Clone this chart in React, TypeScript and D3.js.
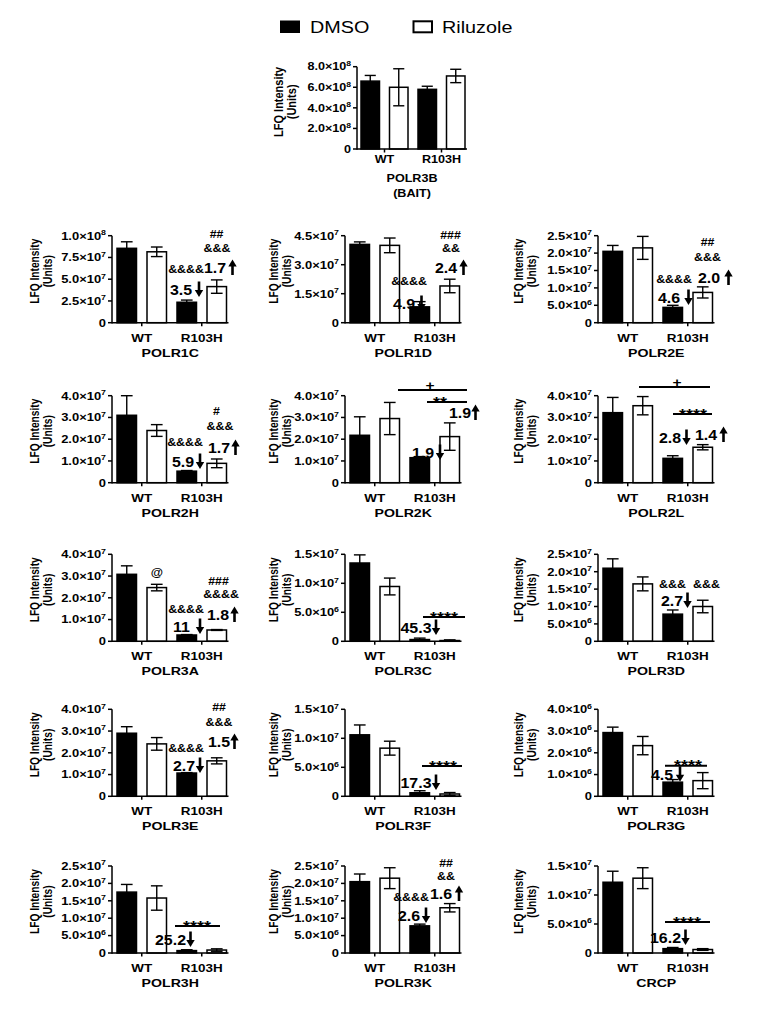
import React from "react";
import * as d3 from "d3";

// ---------- DATA ----------
const groups = ["WT", "R103H"];
const legendLabels = ["DMSO", "Riluzole"];
// bar order: [WT DMSO, WT Riluzole, R103H DMSO, R103H Riluzole]
const POLR3B_mean = [6.6e8, 6.0e8, 5.8e8, 7.1e8];
const POLR3B_err = [0.55e8, 1.8e8, 0.3e8, 0.65e8];
const POLR3B_ticks = [0, 2e8, 4e8, 6e8, 8e8];

const POLR1C_mean = [8.55e7, 8.15e7, 2.35e7, 4.15e7];
const POLR1C_err = [0.75e7, 0.55e7, 0.25e7, 0.77e7];
const POLR1C_ticks = [0, 2.5e7, 5e7, 7.5e7, 1e8];

const POLR1D_mean = [4.05e7, 4.0e7, 0.82e7, 1.9e7];
const POLR1D_err = [0.13e7, 0.38e7, 0.27e7, 0.35e7];
const POLR1D_ticks = [0, 1.5e7, 3e7, 4.5e7];

const POLR2E_mean = [2.05e7, 2.15e7, 0.44e7, 0.87e7];
const POLR2E_err = [0.17e7, 0.33e7, 0.06e7, 0.16e7];
const POLR2E_ticks = [0, 5e6, 1e7, 1.5e7, 2e7, 2.5e7];

const POLR2H_mean = [3.1e7, 2.4e7, 0.53e7, 0.89e7];
const POLR2H_err = [0.9e7, 0.27e7, 0.03e7, 0.2e7];
const POLR2H_ticks = [0, 1e7, 2e7, 3e7, 4e7];

const POLR2K_mean = [2.18e7, 2.95e7, 1.15e7, 2.12e7];
const POLR2K_err = [0.85e7, 0.74e7, 0.05e7, 0.63e7];
const POLR2K_ticks = [0, 1e7, 2e7, 3e7, 4e7];

const POLR2L_mean = [3.22e7, 3.54e7, 1.12e7, 1.63e7];
const POLR2L_err = [0.7e7, 0.42e7, 0.12e7, 0.12e7];
const POLR2L_ticks = [0, 1e7, 2e7, 3e7, 4e7];

const POLR3A_mean = [3.08e7, 2.47e7, 0.29e7, 0.52e7];
const POLR3A_err = [0.39e7, 0.15e7, 0.02e7, 0.02e7];
const POLR3A_ticks = [0, 1e7, 2e7, 3e7, 4e7];

const POLR3C_mean = [1.35e7, 0.945e7, 3.0e5, 1.3e5];
const POLR3C_err = [0.14e7, 0.145e7, 2.5e5, 1.2e5];
const POLR3C_ticks = [0, 5e6, 1e7, 1.5e7];

const POLR3D_mean = [2.1e7, 1.65e7, 0.78e7, 1.0e7];
const POLR3D_err = [0.27e7, 0.2e7, 0.12e7, 0.18e7];
const POLR3D_ticks = [0, 5e6, 1e7, 1.5e7, 2e7, 2.5e7];

const POLR3E_mean = [2.9e7, 2.41e7, 1.07e7, 1.63e7];
const POLR3E_err = [0.3e7, 0.29e7, 0.02e7, 0.14e7];
const POLR3E_ticks = [0, 1e7, 2e7, 3e7, 4e7];

const POLR3F_mean = [1.06e7, 0.83e7, 6.1e5, 4.0e5];
const POLR3F_err = [0.17e7, 0.12e7, 3.5e5, 2.5e5];
const POLR3F_ticks = [0, 5e6, 1e7, 1.5e7];

const POLR3G_mean = [2.93e6, 2.33e6, 0.65e6, 0.72e6];
const POLR3G_err = [0.25e6, 0.42e6, 0.12e6, 0.37e6];
const POLR3G_ticks = [0, 1e6, 2e6, 3e6, 4e6];

const POLR3H_mean = [1.75e7, 1.58e7, 6.9e5, 8.5e5];
const POLR3H_err = [0.22e7, 0.35e7, 2.5e5, 3.5e5];
const POLR3H_ticks = [0, 5e6, 1e7, 1.5e7, 2e7, 2.5e7];

const POLR3K_mean = [2.05e7, 2.15e7, 0.78e7, 1.3e7];
const POLR3K_err = [0.22e7, 0.3e7, 0.05e7, 0.12e7];
const POLR3K_ticks = [0, 5e6, 1e7, 1.5e7, 2e7, 2.5e7];

const CRCP_mean = [1.22e7, 1.29e7, 7.5e5, 6e5];
const CRCP_err = [0.19e7, 0.18e7, 2e5, 1.5e5];
const CRCP_ticks = [0, 5e6, 1e7, 1.5e7];

// ---------- LAYOUT ----------
const FONT = "'Liberation Sans', Arial, Helvetica, sans-serif";
const SX = 1.2; // horizontal stretch of the source figure's lettering
const COLS = [112, 345, 598];
const ROWS = [235.7, 395.7, 554.3, 709.3, 866];
const LABEL_X = [39, 278, 523];

type Ann =
  | { k: "t"; s: string; x: number; y: number; fs?: number }
  | { k: "f"; s: string; x: number; y: number; ax: number; dir: "up" | "down" }
  | { k: "b"; s: string; x1: number; x2: number; y: number; lx: number; fs?: number; dy?: number };

const panels = [
  { title: ["POLR1C"], mean: POLR1C_mean, err: POLR1C_err, ticks: POLR1C_ticks, col: 0, row: 0,
    ann: [
      { k: "t", s: "##", x: 104.5, y: 2.3 }, { k: "t", s: "&&&", x: 105, y: 16.3 },
      { k: "f", s: "1.7", x: 92, y: 37.3, ax: 120.5, dir: "up" },
      { k: "t", s: "&&&&", x: 74, y: 37.3 }, { k: "f", s: "3.5", x: 58, y: 59.3, ax: 87, dir: "down" },
    ] as Ann[] },
  { title: ["POLR1D"], mean: POLR1D_mean, err: POLR1D_err, ticks: POLR1D_ticks, col: 1, row: 0,
    ann: [
      { k: "t", s: "###", x: 105.5, y: 3.3 }, { k: "t", s: "&&", x: 106, y: 16.3 },
      { k: "f", s: "2.4", x: 90, y: 37.3, ax: 118.5, dir: "up" },
      { k: "t", s: "&&&&", x: 64, y: 49.3 }, { k: "f", s: "4.9", x: 48, y: 73.3, ax: 76.5, dir: "down" },
    ] as Ann[] },
  { title: ["POLR2E"], mean: POLR2E_mean, err: POLR2E_err, ticks: POLR2E_ticks, col: 2, row: 0,
    ann: [
      { k: "t", s: "##", x: 109.5, y: 10.3 }, { k: "t", s: "&&&", x: 109.5, y: 25.3 },
      { k: "f", s: "2.0", x: 100, y: 47.3, ax: 130.5, dir: "up" },
      { k: "t", s: "&&&&", x: 76, y: 47.3 }, { k: "f", s: "4.6", x: 60, y: 67.3, ax: 90.5, dir: "down" },
    ] as Ann[] },
  { title: ["POLR2H"], mean: POLR2H_mean, err: POLR2H_err, ticks: POLR2H_ticks, col: 0, row: 1,
    ann: [
      { k: "t", s: "#", x: 104.5, y: 19.3 }, { k: "t", s: "&&&", x: 108, y: 34.3 },
      { k: "f", s: "1.7", x: 96, y: 57.3, ax: 123.5, dir: "up" },
      { k: "t", s: "&&&&", x: 73, y: 50.3 }, { k: "f", s: "5.9", x: 60, y: 71.3, ax: 88, dir: "down" },
    ] as Ann[] },
  { title: ["POLR2K"], mean: POLR2K_mean, err: POLR2K_err, ticks: POLR2K_ticks, col: 1, row: 1,
    ann: [
      { k: "b", s: "+", x1: 53, x2: 122, y: -5.7, lx: 85, fs: 13, dy: 0 },
      { k: "b", s: "**", x1: 82, x2: 122, y: 6.3, lx: 95, fs: 15, dy: 4.5 },
      { k: "f", s: "1.9", x: 104, y: 22.3, ax: 130.5, dir: "up" },
      { k: "f", s: "1.9", x: 67, y: 62.3, ax: 95, dir: "down" },
    ] as Ann[] },
  { title: ["POLR2L"], mean: POLR2L_mean, err: POLR2L_err, ticks: POLR2L_ticks, col: 2, row: 1,
    ann: [
      { k: "b", s: "+", x1: 41, x2: 112, y: -8.7, lx: 79, fs: 13, dy: 0 },
      { k: "b", s: "****", x1: 75, x2: 114, y: 18.3, lx: 95, fs: 15, dy: 4.5 },
      { k: "f", s: "2.8", x: 61, y: 47.3, ax: 88.5, dir: "down" },
      { k: "f", s: "1.4", x: 97, y: 44.3, ax: 125.5, dir: "up" },
    ] as Ann[] },
  { title: ["POLR3A"], mean: POLR3A_mean, err: POLR3A_err, ticks: POLR3A_ticks, col: 0, row: 2,
    ann: [
      { k: "t", s: "@", x: 45, y: 21.7, fs: 10.5 },
      { k: "t", s: "###", x: 106.5, y: 30.7 }, { k: "t", s: "&&&&", x: 109, y: 43.7 },
      { k: "f", s: "1.8", x: 95, y: 65.7, ax: 122.5, dir: "up" },
      { k: "t", s: "&&&&", x: 74, y: 58.7 }, { k: "f", s: "11", x: 61, y: 77.7, ax: 88, dir: "down" },
    ] as Ann[] },
  { title: ["POLR3C"], mean: POLR3C_mean, err: POLR3C_err, ticks: POLR3C_ticks, col: 1, row: 2,
    ann: [
      { k: "b", s: "****", x1: 78, x2: 120, y: 62.7, lx: 99, fs: 15, dy: 4.5 },
      { k: "f", s: "45.3", x: 55.5, y: 78.7, ax: 91, dir: "down" },
    ] as Ann[] },
  { title: ["POLR3D"], mean: POLR3D_mean, err: POLR3D_err, ticks: POLR3D_ticks, col: 2, row: 2,
    ann: [
      { k: "t", s: "&&&", x: 74.5, y: 33.7 }, { k: "t", s: "&&&", x: 108.5, y: 33.7 },
      { k: "f", s: "2.7", x: 63, y: 51.7, ax: 89.5, dir: "down" },
    ] as Ann[] },
  { title: ["POLR3E"], mean: POLR3E_mean, err: POLR3E_err, ticks: POLR3E_ticks, col: 0, row: 3,
    ann: [
      { k: "t", s: "##", x: 107, y: 1.7 }, { k: "t", s: "&&&", x: 107, y: 16.7 },
      { k: "f", s: "1.5", x: 96, y: 37.7, ax: 122.5, dir: "up" },
      { k: "t", s: "&&&&", x: 74, y: 42.7 }, { k: "f", s: "2.7", x: 61, y: 61.7, ax: 88, dir: "down" },
    ] as Ann[] },
  { title: ["POLR3F"], mean: POLR3F_mean, err: POLR3F_err, ticks: POLR3F_ticks, col: 1, row: 3,
    ann: [
      { k: "b", s: "****", x1: 77, x2: 117, y: 56.7, lx: 98, fs: 15, dy: 4.5 },
      { k: "f", s: "17.3", x: 55.5, y: 78.7, ax: 91, dir: "down" },
    ] as Ann[] },
  { title: ["POLR3G"], mean: POLR3G_mean, err: POLR3G_err, ticks: POLR3G_ticks, col: 2, row: 3,
    ann: [
      { k: "b", s: "****", x1: 67, x2: 109, y: 56.5, lx: 90, fs: 15, dy: 4.5 },
      { k: "f", s: "4.5", x: 53, y: 70.5, ax: 82, dir: "down" },
    ] as Ann[] },
  { title: ["POLR3H"], mean: POLR3H_mean, err: POLR3H_err, ticks: POLR3H_ticks, col: 0, row: 4,
    ann: [
      { k: "b", s: "****", x1: 63, x2: 108, y: 60, lx: 85, fs: 15, dy: 4.5 },
      { k: "f", s: "25.2", x: 43, y: 79, ax: 78.5, dir: "down" },
    ] as Ann[] },
  { title: ["POLR3K"], mean: POLR3K_mean, err: POLR3K_err, ticks: POLR3K_ticks, col: 1, row: 4,
    ann: [
      { k: "t", s: "##", x: 101, y: 1 }, { k: "t", s: "&&", x: 101, y: 13.5 },
      { k: "f", s: "1.6", x: 85, y: 33, ax: 114, dir: "up" },
      { k: "t", s: "&&&&", x: 66, y: 35 }, { k: "f", s: "2.6", x: 53, y: 55, ax: 81, dir: "down" },
    ] as Ann[] },
  { title: ["CRCP"], mean: CRCP_mean, err: CRCP_err, ticks: CRCP_ticks, col: 2, row: 4,
    ann: [
      { k: "b", s: "****", x1: 67, x2: 112, y: 56, lx: 89, fs: 15, dy: 4.5 },
      { k: "f", s: "16.2", x: 52, y: 77, ax: 87.5, dir: "down" },
    ] as Ann[] },
];

function tickParts(v: number) {
  if (v === 0) return { m: "0", e: null as number | null };
  const e = Math.floor(Math.log10(v) + 1e-9);
  return { m: (v / Math.pow(10, e)).toFixed(1), e };
}

function T({ x, y, fs, anchor = "start", rot = false, weight = "bold", sx = SX, children }:
  { x: number; y: number; fs: number; anchor?: string; rot?: boolean; weight?: string; sx?: number; children: React.ReactNode }) {
  return (
    <text transform={`translate(${x},${y}) scale(${sx},1)${rot ? " rotate(-90)" : ""}`}
      textAnchor={anchor} fontSize={fs} fontWeight={weight}>{children}</text>
  );
}

function Arrow({ x, y, dir }: { x: number; y: number; dir: "up" | "down" }) {
  const top = y - 13.5, bot = y + 2, hw = 4.2, hh = 7;
  if (dir === "down") {
    return (
      <g>
        <line x1={x} x2={x} y1={top} y2={bot - hh + 1} stroke="#000" strokeWidth={2.6} />
        <path d={`M${x - hw},${bot - hh}L${x + hw},${bot - hh}L${x},${bot}Z`} fill="#000" />
      </g>
    );
  }
  return (
    <g>
      <line x1={x} x2={x} y1={top + hh - 1} y2={bot} stroke="#000" strokeWidth={2.6} />
      <path d={`M${x - hw},${top + hh}L${x + hw},${top + hh}L${x},${top}Z`} fill="#000" />
    </g>
  );
}

type PanelProps = {
  title: string[]; mean: number[]; err: number[]; ticks: number[];
  a: number; t: number; h: number; off: number; pitch: number; bw: number;
  labelX: number; labelDy: number; tickFs: number; labFs: number; titleFs: number; axLabFs: number;
  xLabDy: number; titleDy: number; titleGap: number; ann: Ann[];
};

function Panel(p: PanelProps) {
  const y = d3.scaleLinear().domain([0, p.ticks[p.ticks.length - 1]]).range([p.t + p.h, p.t]);
  const x = d3.scaleBand<number>()
    .domain([0, 1, 2, 3])
    .range([p.a + p.off, p.a + p.off + 3 * p.pitch + p.bw])
    .paddingInner(1 - p.bw / p.pitch)
    .paddingOuter(0);
  const bw = x.bandwidth();
  const xEnd = p.a + p.off + 3 * p.pitch + p.bw + 2;
  const base = y(0);
  const cap = bw * 0.6;
  const gc = [(x(0)! + x(1)! + bw) / 2, (x(2)! + x(3)! + bw) / 2];
  const midY = (p.t + p.t + p.h) / 2 + p.labelDy;
  return (
    <g fontFamily={FONT}>
      <T x={p.labelX} y={midY} fs={p.axLabFs} anchor="middle" rot>LFQ Intensity</T>
      <T x={p.labelX + 13} y={midY} fs={p.axLabFs} anchor="middle" rot>(Units)</T>
      {p.mean.map((m, i) => {
        const xi = x(i)!;
        const black = i % 2 === 0;
        const hi = y(m + p.err[i]);
        const lo = y(Math.max(0, m - p.err[i]));
        return (
          <g key={i}>
            <rect x={xi} y={y(m)} width={bw} height={base - y(m)} fill={black ? "#000" : "#fff"} stroke="#000" strokeWidth={1.5} />
            <line x1={xi + bw / 2} x2={xi + bw / 2} y1={hi} y2={lo} stroke="#000" strokeWidth={1.4} />
            <line x1={xi + bw / 2 - cap / 2} x2={xi + bw / 2 + cap / 2} y1={hi} y2={hi} stroke="#000" strokeWidth={1.4} />
            {!black && <line x1={xi + bw / 2 - cap / 2} x2={xi + bw / 2 + cap / 2} y1={lo} y2={lo} stroke="#000" strokeWidth={1.4} />}
          </g>
        );
      })}
      <line x1={p.a} x2={p.a} y1={y(p.ticks[p.ticks.length - 1])} y2={base + 0.75} stroke="#000" strokeWidth={1.5} />
      <line x1={p.a} x2={xEnd} y1={base} y2={base} stroke="#000" strokeWidth={1.5} />
      {p.ticks.map((v, i) => {
        const tp = tickParts(v);
        return (
          <g key={i}>
            <line x1={p.a - 4} x2={p.a} y1={y(v)} y2={y(v)} stroke="#000" strokeWidth={1.5} />
            <T x={p.a - 6} y={y(v) + p.tickFs * 0.36} fs={p.tickFs} anchor="end">
              {tp.m}
              {tp.e !== null && <>{"×10"}<tspan dy={-p.tickFs * 0.42} fontSize={p.tickFs * 0.68}>{tp.e}</tspan></>}
            </T>
          </g>
        );
      })}
      {groups.map((g, i) => (
        <g key={g}>
          <line x1={gc[i]} x2={gc[i]} y1={base} y2={base + 3.5} stroke="#000" strokeWidth={1.5} />
          <T x={gc[i]} y={base + p.xLabDy} fs={p.labFs} anchor="middle">{g}</T>
        </g>
      ))}
      {p.title.map((s, i) => (
        <T key={i} x={(p.a + xEnd) / 2} y={base + p.titleDy + i * p.titleGap} fs={p.titleFs} anchor="middle">{s}</T>
      ))}
      {p.ann.map((an, i) => {
        if (an.k === "t") {
          return <T key={i} x={p.a + an.x} y={p.t + an.y} fs={an.fs ?? 10.3} anchor="middle">{an.s}</T>;
        }
        if (an.k === "f") {
          return (
            <g key={i}>
              <T x={p.a + an.x} y={p.t + an.y} fs={14.5} sx={1.1}>{an.s}</T>
              <Arrow x={p.a + an.ax} y={p.t + an.y} dir={an.dir} />
            </g>
          );
        }
        return (
          <g key={i}>
            <line x1={p.a + an.x1} x2={p.a + an.x2} y1={p.t + an.y} y2={p.t + an.y} stroke="#000" strokeWidth={2} />
            <T x={p.a + an.lx} y={p.t + an.y + (an.dy ?? 0)} fs={an.fs ?? 12} anchor="middle">{an.s}</T>
          </g>
        );
      })}
    </g>
  );
}

export default function App() {
  return (
    <svg width={778} height={1015} style={{ position: "absolute", left: 0, top: 0, background: "#fff" }}>
      <rect width={778} height={1015} fill="#fff" />
      <g fontFamily={FONT}>
        <rect x={280} y={20.5} width={20} height={12.5} fill="#000" />
        <T x={310} y={33.3} fs={16.5} weight="normal">{legendLabels[0]}</T>
        <rect x={413.5} y={21.3} width={18.5} height={11} fill="#fff" stroke="#000" strokeWidth={2} />
        <T x={442} y={33.3} fs={16.5} weight="normal">{legendLabels[1]}</T>
      </g>
      <Panel title={["POLR3B", "(BAIT)"]} mean={POLR3B_mean} err={POLR3B_err} ticks={POLR3B_ticks}
        a={357} t={66.7} h={82.3} off={4} pitch={28.5} bw={18.5} labelX={283} labelDy={-6}
        tickFs={10.5} labFs={10.5} titleFs={10.5} axLabFs={11} xLabDy={14} titleDy={33} titleGap={15} ann={[]} />
      {panels.map((pn) => (
        <Panel key={pn.title[0]} title={pn.title} mean={pn.mean} err={pn.err} ticks={pn.ticks}
          a={COLS[pn.col]} t={ROWS[pn.row]} h={87} off={5} pitch={30} bw={19.5} labelX={LABEL_X[pn.col]} labelDy={-8}
          tickFs={10.8} labFs={11.2} titleFs={11.8} axLabFs={10.2} xLabDy={19} titleDy={34} titleGap={15} ann={pn.ann} />
      ))}
    </svg>
  );
}
